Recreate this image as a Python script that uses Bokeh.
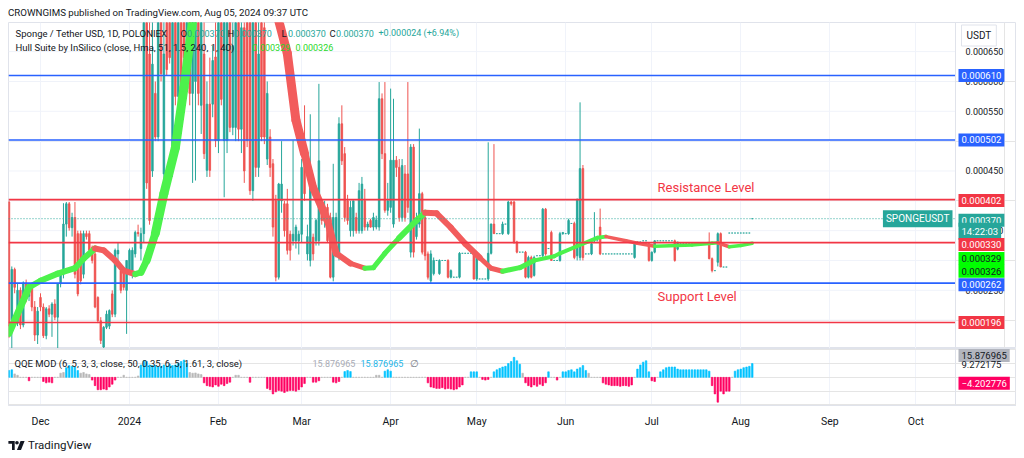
import numpy as np
import pandas as pd
from bokeh.plotting import figure
from bokeh.models import (ColumnDataSource, Range1d, FixedTicker, CustomJSTickFormatter,
                          Span, Label, Grid, Div)
from bokeh.layouts import column
from bokeh.embed import file_html
from bokeh.resources import INLINE

FONT = "Roboto"
TEAL = "#26a69a"
RED = "#ef5350"
LBLUE = "#2962ff"
LRED = "#f23645"
HGREEN = "#4cf24c"
HRED = "#f25c5c"
QBLUE = "#00c3ff"
QPINK = "#ff0062"
QGRAY = "#b8b8b8"
TXT = "#131722"
GRIDC = "#f0f3fa"
BORDER = "#e0e3eb"

# ---------------- data (prices in 1e-6 USDT) ----------------
# daily candles (open, high, low, close)
NOV23 = [(398, 400, 170, 190), (200, 290, 150, 285), (285, 288, 245, 255), (195, 262, 190, 250),
         (250, 255, 185, 192), (192, 265, 188, 262), (262, 268, 230, 240), (240, 262, 232, 255),
         (255, 258, 215, 222), (222, 232, 165, 175), (175, 222, 160, 215)]
DEC23 = [(238, 245, 215, 222), (222, 228, 170, 174), (174, 222, 168, 219), (219, 225, 205, 210),
         (210, 230, 172, 227), (227, 235, 200, 205), (205, 262, 150, 261), (261, 280, 255, 277),
         (277, 396, 270, 361), (361, 398, 340, 395), (395, 398, 350, 355), (355, 380, 340, 372),
         (372, 398, 270, 277), (345, 350, 240, 244), (345, 350, 260, 266), (277, 350, 270, 345),
         (345, 350, 335, 340), (345, 350, 310, 317), (322, 325, 295, 300), (311, 315, 220, 222),
         (238, 240, 195, 199), (199, 205, 160, 166), (155, 190, 150, 188), (188, 216, 185, 210),
         (190, 218, 185, 216), (244, 250, 205, 210), (210, 320, 205, 317), (311, 330, 300, 317),
         (283, 290, 245, 250), (283, 288, 250, 255), (250, 300, 177, 300)]
JAN24 = [(283, 320, 280, 317), (283, 322, 270, 317), (311, 350, 305, 347), (347, 360, 340, 345),
         (320, 355, 300, 345), (345, 800, 330, 720), (720, 800, 420, 430), (646, 720, 360, 367),
         (450, 760, 440, 629), (580, 600, 500, 507), (507, 740, 500, 720), (720, 760, 600, 613),
         (445, 720, 430, 646), (740, 780, 610, 620), (720, 760, 630, 640), (470, 740, 440, 700),
         (720, 750, 560, 575), (575, 760, 560, 700), (700, 740, 540, 560), (740, 760, 620, 640),
         (640, 780, 600, 740), (740, 770, 560, 580), (580, 760, 430, 740), (600, 760, 434, 740),
         (740, 760, 560, 580), (560, 780, 512, 740), (646, 700, 470, 479), (451, 600, 440, 562),
         (562, 640, 440, 451), (562, 660, 540, 635), (641, 700, 490, 501)]
FEB24 = [(501, 740, 480, 700), (700, 760, 560, 570), (501, 780, 406, 740), (501, 760, 480, 740),
         (740, 760, 515, 523), (523, 700, 510, 660), (523, 780, 500, 740), (740, 760, 500, 520),
         (520, 720, 480, 690), (690, 760, 430, 450), (740, 780, 490, 501), (760, 780, 410, 417),
         (417, 780, 400, 740), (740, 760, 440, 456), (456, 700, 440, 646), (700, 740, 500, 507),
         (690, 720, 495, 507), (470, 600, 460, 580), (507, 520, 440, 456), (462, 470, 340, 356),
         (400, 410, 265, 272), (272, 430, 268, 428), (400, 500, 380, 428), (395, 400, 340, 350),
         (395, 420, 310, 317), (344, 350, 300, 317), (333, 501, 325, 344), (333, 360, 320, 356),
         (333, 350, 310, 344)]
MAR24 = [(344, 470, 330, 456), (462, 560, 400, 412), (311, 360, 300, 340), (300, 545, 290, 456),
         (339, 345, 300, 311), (333, 370, 325, 367), (333, 596, 325, 467), (389, 400, 360, 367),
         (367, 400, 355, 389), (389, 395, 330, 333), (372, 380, 270, 272), (272, 462, 265, 372),
         (311, 380, 305, 372), (311, 540, 300, 529), (529, 560, 460, 467), (479, 490, 365, 372),
         (400, 410, 360, 367), (350, 400, 340, 389), (350, 400, 340, 400), (372, 380, 345, 350),
         (350, 430, 345, 417), (350, 440, 345, 428), (400, 420, 350, 356), (356, 365, 350, 361),
         (367, 370, 355, 356), (356, 380, 350, 372), (356, 375, 352, 368), (356, 599, 350, 571),
         (571, 580, 470, 479), (479, 599, 380, 384), (384, 430, 375, 400)]
APR24 = [(389, 588, 380, 468), (361, 571, 355, 468), (468, 475, 440, 456), (456, 470, 365, 372),
         (372, 470, 365, 459), (445, 460, 365, 372), (445, 599, 380, 389), (314, 495, 305, 490),
         (490, 495, 305, 314), (340, 380, 335, 370), (361, 521, 355, 412), (412, 415, 310, 314),
         (372, 380, 300, 308), (311, 315, 268, 272), (266, 317, 262, 311), (278, 305, 275, 300),
         (300, 300, 300, 300), (278, 302, 276, 300), (300, 300, 300, 300), (300, 300, 300, 300),
         (300, 302, 270, 272), (272, 285, 270, 283), (272, 272, 272, 272), (272, 272, 272, 272),
         (272, 314, 270, 312), (312, 312, 312, 312), (312, 312, 312, 312), (312, 312, 312, 312),
         (312, 312, 312, 312), (312, 314, 268, 269)]
MAY24 = [(269, 314, 266, 312), (269, 269, 269, 269), (269, 269, 269, 269), (269, 269, 269, 269),
         (269, 498, 266, 312), (312, 362, 310, 361), (361, 495, 345, 345), (345, 345, 345, 345),
         (345, 345, 345, 345), (345, 365, 343, 361), (361, 361, 361, 361), (345, 400, 343, 398),
         (398, 400, 392, 395), (398, 400, 328, 331), (331, 333, 312, 314), (314, 314, 314, 314),
         (314, 314, 314, 314), (314, 316, 270, 272), (272, 308, 270, 305), (305, 308, 270, 272),
         (275, 308, 273, 305), (308, 308, 308, 308), (308, 308, 308, 308), (308, 388, 305, 386),
         (386, 388, 308, 311), (320, 320, 320, 320), (347, 350, 300, 300), (300, 300, 300, 300),
         (300, 300, 300, 300), (300, 348, 298, 345), (345, 347, 343, 347)]
JUN24 = [(345, 345, 345, 345), (345, 370, 343, 367), (362, 362, 362, 362), (362, 365, 302, 305),
         (308, 403, 300, 403), (305, 565, 300, 454), (454, 460, 300, 305), (311, 311, 311, 311),
         (311, 311, 311, 311), (311, 330, 309, 328), (333, 381, 331, 333), (333, 333, 333, 333),
         (356, 387, 309, 311), (311, 311, 311, 311), (311, 311, 311, 311), (311, 311, 311, 311),
         (311, 311, 311, 311), (311, 311, 311, 311), (311, 311, 311, 311), (311, 311, 311, 311),
         (311, 311, 311, 311), (311, 311, 311, 311), (311, 311, 311, 311), (311, 311, 311, 311),
         (305, 330, 303, 329), (331, 331, 331, 331), (331, 331, 331, 331), (333, 333, 333, 333),
         (333, 333, 333, 333), (328, 330, 298, 300)]
JUL24 = [(300, 315, 298, 314), (314, 334, 312, 333), (333, 333, 333, 333), (333, 333, 333, 333),
         (333, 333, 333, 333), (333, 333, 333, 333), (333, 333, 333, 333), (333, 333, 333, 333),
         (333, 335, 298, 300), (319, 331, 317, 331), (328, 328, 328, 328), (328, 328, 328, 328),
         (328, 328, 328, 328), (328, 328, 328, 328), (328, 328, 328, 328), (328, 328, 328, 328),
         (328, 328, 328, 328), (328, 328, 328, 328), (328, 328, 328, 328), (328, 328, 328, 328),
         (328, 347, 302, 303), (303, 305, 280, 283), (283, 283, 283, 283), (297, 347, 290, 345),
         (345, 347, 289, 289), (289, 289, 289, 289), (289, 289, 289, 289), (346, 346, 346, 346),
         (346, 346, 346, 346), (346, 346, 346, 346), (346, 346, 346, 346)]
AUG24 = [(346, 346, 346, 346), (346, 346, 346, 346), (346, 346, 346, 346), (346, 346, 346, 346),
         (370, 370, 370, 370)]

# QQE MOD histogram, one value per day
QQE_NOV23 = [5, 5.5, 2.5, 1.5, 0, 0, 0, -2.5, 0, 0, 0]
QQE_DEC23 = [0, -3, -4, -3.5, -4, 0, 0, 3, 3.5, 7, 8.5, 8, 7.5, 5, 3, 3.5, 2.5, 2, -2, -6,
             -9, -9, -8.5, -9, -7, -5, -2, 0, 0, 1.5, 0]
QQE_JAN24 = [0, 0, 0, 1, 9, 12, 11.5, 9, 8.5, 8.7, 7.5, 8, 9, 8, 9.5, 8.5, 9, 10, 11.5, 12.5,
             10, 3.5, 3, 3.2, 2.5, 2, -4, -6, -6.5, -7, -5.5]
QQE_FEB24 = [-6.5, -5, -6, -4.5, -3.5, 0, 1.5, 1.5, 0, 0, 0, -3.6, 0, 0, 0, 0, 0, -8, -9, -12,
             -10.5, -9.5, -10, -11, -10, -9.5, -9.5, -10, -9]
QQE_MAR24 = [-7, -4.5, 0, 0, -3.5, -3.5, -2.5, 0, 0, 0, 0, -3.5, -4, -3, 0, 4.2, 5, 4.2, 0, 0,
             0, 0, 0, 0, 0, 0, 1.5, 1.5, 0, 4.5, 5.5]
QQE_APR24 = [4.5, 0, 0, 0, 0, 0, 0, 0, 0, 0, 0, 0, 0, -4, -7, -7.5, -8, -8, -7.5, -8.5,
             -8, -8.5, -9, -8.5, -7, -5.5, 0, 0, 4, 4]
QQE_MAY24 = [4, 0, -1.5, -2, -1.5, 0, 4, 5.5, 6.5, 7.5, 8, 10, 11.5, 14.5, 12, 9.5, 3, -4, -6, -7,
             -5.5, -6.5, -5, -6, -4, 4, 0, 0, -2, 0, 4]
QQE_JUN24 = [4, 5, 5.5, 4, 6, 7, 8.5, 5, 3, 0, 0, 0, 0, -4, -5, -5.5, -6, -6, -6, -6.5,
             -6, -6, -6.5, -5.5, 0, 6, 9, 11, 12, 4]
QQE_JUL24 = [-2.5, -3, 0, 4, 5.5, 7, 7.5, 7.5, 7.5, 6, 5.5, 5.5, 5.5, 5.5, 5.5, 5.5, 5.5, 5.5,
             5.5, 5.5, 4.5, -6, -12, -18, -10, -12, -10, -10, 0, 4.5, 5.5]
QQE_AUG24 = [6, 7, 7.5, 8, 10]

MONTHS = [("2023-11-20", NOV23, QQE_NOV23), ("2023-12-01", DEC23, QQE_DEC23),
          ("2024-01-01", JAN24, QQE_JAN24), ("2024-02-01", FEB24, QQE_FEB24),
          ("2024-03-01", MAR24, QQE_MAR24), ("2024-04-01", APR24, QQE_APR24),
          ("2024-05-01", MAY24, QQE_MAY24), ("2024-06-01", JUN24, QQE_JUN24),
          ("2024-07-01", JUL24, QQE_JUL24), ("2024-08-01", AUG24, QQE_AUG24)]

# Hull Suite band
HULL_DATES = ["2023-11-20", "2023-11-27", "2023-12-01", "2023-12-07", "2023-12-13", "2023-12-16",
              "2023-12-20", "2023-12-23", "2023-12-27", "2023-12-30", "2024-01-03", "2024-01-05",
              "2024-01-07", "2024-01-10", "2024-01-13", "2024-01-17", "2024-01-20", "2024-01-23",
              "2024-01-27", "2024-02-03", "2024-02-10", "2024-02-17", "2024-02-22", "2024-02-25",
              "2024-02-28", "2024-03-02", "2024-03-05", "2024-03-10", "2024-03-13", "2024-03-18",
              "2024-03-23", "2024-03-26", "2024-03-30", "2024-04-04", "2024-04-10", "2024-04-13",
              "2024-04-17", "2024-04-22", "2024-04-27", "2024-05-02", "2024-05-06", "2024-05-10",
              "2024-05-16", "2024-05-21", "2024-05-28", "2024-05-30", "2024-06-07", "2024-06-12",
              "2024-06-15", "2024-06-22", "2024-06-26", "2024-07-02", "2024-07-15", "2024-07-22",
              "2024-07-24", "2024-07-28", "2024-08-01", "2024-08-05"]
HULL_VALUES = [178, 255, 266, 278, 287, 303, 320, 317, 300, 283, 277, 280, 300, 345, 412, 489, 590,
               702, 800, 880, 885, 800, 702, 647, 535, 479, 422, 367, 312, 295, 287, 288, 312, 338,
               367, 380, 379, 355, 328, 305, 287, 282, 288, 300, 307, 312, 328, 338, 340, 333, 329,
               324, 326, 329, 329.5, 323, 325, 329]
HULL_WIDTHS = [7, 6, 6, 6, 6, 6, 6, 6, 6, 6, 6, 7, 8, 9, 9, 9, 9, 9, 9, 9, 9, 9, 9, 9, 9, 8, 8,
               7, 6, 5, 5, 5, 5, 6, 6, 6, 6, 6, 6, 5, 5, 5, 5, 4, 4, 4, 4, 4, 3.5, 3.5, 3.5, 3.5,
               3.5, 3.5, 3.5, 3.5, 3.5, 3.5]

LEVELS = [610, 502, 402, 330, 262, 196]
LEVEL_COLORS = [LBLUE, LBLUE, LRED, LRED, LBLUE, LRED]
LAST_PRICE = 370
HULL_LAST = [329, 326]
PRICE_TICKS = [200, 250, 300, 350, 400, 450, 500, 550, 600, 650]
MONTH_TICKS = ["2023-12-01", "2024-01-01", "2024-02-01", "2024-03-01", "2024-04-01", "2024-05-01",
               "2024-06-01", "2024-07-01", "2024-08-01", "2024-09-01", "2024-10-01"]
MONTH_LABELS = ["Dec", "2024", "Feb", "Mar", "Apr", "May", "Jun", "Jul", "Aug", "Sep", "Oct"]
QQE_TAGS = [15.876965, 9.272175, -4.202776]

X_START = "2023-11-19 20:24"
X_END = "2024-10-14 19:40"     # right edge of the chart area (start of the price scale)
Y_RANGE = (152.5, 698.8)
Q_RANGE = (-20.4, 20.9)
U = 1e-6

# ---------------- build sources ----------------
rows = []
qrows = []
for start, candles, qqe in MONTHS:
    days = pd.date_range(start, periods=len(candles), freq="D")
    for d, (o, h, l, c) in zip(days, candles):
        rows.append((d, o * U, h * U, l * U, c * U))
    qdays = pd.date_range(start, periods=len(qqe), freq="D")
    for d, v in zip(qdays, qqe):
        qrows.append((d, v))
df = pd.DataFrame(rows, columns=["date", "open", "high", "low", "close"])
df["top"] = np.maximum(df["open"], df["close"])
df["bottom"] = np.minimum(df["open"], df["close"])
df["color"] = np.where(df["close"] >= df["open"], TEAL, RED)
src = ColumnDataSource(df)

qdf = pd.DataFrame(qrows, columns=["date", "v"])
qdf["color"] = [QPINK if v < 0 else (QBLUE if v >= 4 else QGRAY) for v in qdf["v"]]
qsrc = ColumnDataSource(qdf)

def ms(s):
    return pd.Timestamp(s).value / 1e6

XS_MS = ms(X_START)
XE_MS = ms(X_END)
CHART_W, SCALE_W = 947, 61
XR_MS = XE_MS + (XE_MS - XS_MS) * SCALE_W / CHART_W   # room for the price scale
DAY_MS = 86400000.0
MONTH_MS = [ms(m) for m in MONTH_TICKS]

# ---------------- price pane ----------------
p1 = figure(x_axis_type="datetime", x_range=Range1d(XS_MS, XR_MS),
            y_range=Range1d(Y_RANGE[0] * U, Y_RANGE[1] * U),
            frame_width=CHART_W + SCALE_W, frame_height=326, min_border=0,
            x_axis_location=None, y_axis_location=None, toolbar_location=None,
            output_backend="svg", outline_line_color=BORDER,
            background_fill_color="white", border_fill_color="white")
p1.add_layout(Grid(dimension=0, ticker=FixedTicker(ticks=MONTH_MS), grid_line_color=GRIDC))
p1.segment(x0=[XS_MS] * len(PRICE_TICKS), x1=[XE_MS] * len(PRICE_TICKS),
           y0=[t * U for t in PRICE_TICKS], y1=[t * U for t in PRICE_TICKS],
           line_color=GRIDC, line_width=1)
p1.add_layout(Span(location=XE_MS, dimension="height", line_color=BORDER, line_width=1))

p1.segment(x0="date", y0="high", x1="date", y1="low", line_color="color", line_width=1, source=src)
p1.vbar(x="date", width=0.55 * DAY_MS, top="top", bottom="bottom", fill_color="color",
        line_color="color", line_width=0.8, source=src)

hx = [ms(d) for d in HULL_DATES]
seg_x, seg_y, seg_c, seg_w = [], [], [], []
for k in range(len(hx) - 1):
    seg_x.append([hx[k], hx[k + 1]])
    seg_y.append([HULL_VALUES[k] * U, HULL_VALUES[k + 1] * U])
    seg_c.append(HGREEN if HULL_VALUES[k + 1] >= HULL_VALUES[k] else HRED)
    seg_w.append(HULL_WIDTHS[k])
p1.multi_line(xs=seg_x, ys=seg_y, line_color=seg_c, line_width=seg_w, line_cap="round",
              line_join="round")

p1.segment(x0=[XS_MS] * len(LEVELS), x1=[XE_MS] * len(LEVELS),
           y0=[v * U for v in LEVELS], y1=[v * U for v in LEVELS],
           line_color=LEVEL_COLORS, line_width=1.6)
p1.segment(x0=[XS_MS], x1=[XE_MS], y0=[LAST_PRICE * U], y1=[LAST_PRICE * U],
           line_color=TEAL, line_width=1, line_dash="1 2")

def text(fig, x, y, s, color=TXT, size="9.5px", units="screen", align="left", font=FONT):
    fig.add_layout(Label(x=x, y=y, x_units=units, text=s, text_font=font, text_font_size=size,
                         text_color=color, text_align=align, text_baseline="middle"))

def tag(fig, y, s, bg, fg, dy=0.0, border=None, xoff=3, align="left", size="9.5px", pad=3):
    fig.add_layout(Label(x=XE_MS, y=y, x_offset=xoff, y_offset=dy, text=s, text_font=FONT,
                         text_font_size=size, text_color=fg, text_align=align,
                         text_baseline="middle", background_fill_color=bg,
                         border_line_color=border, padding=pad))

# legend texts
L1 = 680.4 * U
L2 = 656.9 * U
text(p1, 7, L1, "Sponge / Tether USD, 1D, POLONIEX")
for letter, lx in [("O", 172), ("H", 219), ("L", 273), ("C", 321)]:
    text(p1, lx, L1, letter)
    text(p1, lx + 6.5, L1, "0.%06d" % LAST_PRICE, color=TEAL, size="9px")
text(p1, 370, L1, "+0.000024 (+6.94%)", color=TEAL, size="9px")
text(p1, 7, L2, "Hull Suite by InSilico (close, Hma, 51, 1.5, 240, 1, 40)")
text(p1, 244, L2, "0.%06d" % HULL_LAST[0], color="#2ad82a", size="9px")
text(p1, 287, L2, "0.%06d" % HULL_LAST[1], color="#2ad82a", size="9px")

text(p1, ms("2024-07-03"), 422.3 * U, "Resistance Level", color=LRED, size="13px", units="data")
text(p1, ms("2024-07-03"), 239.6 * U, "Support Level", color=LRED, size="13px", units="data")

# price scale labels
for t in PRICE_TICKS:
    tag(p1, t * U, "0.%06d" % t, None, TXT, xoff=7, size="9px")

# price scale tags
tag(p1, 677 * U, "USDT", "white", TXT, border=BORDER, xoff=6, size="10px", pad=5)
tag(p1, 610 * U, "0.000610", LBLUE, "white")
tag(p1, 502 * U, "0.000502", LBLUE, "white")
tag(p1, 402 * U, "0.000402", LRED, "white", dy=-1)
tag(p1, LAST_PRICE * U, "SPONGEUSDT", TEAL, "white", xoff=-3, align="right", size="10px")
tag(p1, LAST_PRICE * U, "0.000370", TEAL, "white", dy=-1.5)
tag(p1, LAST_PRICE * U, "14:22:03", TEAL, "white", dy=-12.5)
tag(p1, 330 * U, "0.000330", LRED, "white", dy=-2)
tag(p1, 329 * U, "0.000329", "#00ff00", TXT, dy=-15.4)
tag(p1, 326 * U, "0.000326", "#00ff00", TXT, dy=-26.3)
tag(p1, 262 * U, "0.000262", LBLUE, "white", dy=-1.7)
tag(p1, 196 * U, "0.000196", LRED, "white")

# ---------------- QQE pane ----------------
p2 = figure(x_axis_type="datetime", x_range=p1.x_range, y_range=Range1d(*Q_RANGE),
            frame_width=CHART_W + SCALE_W, frame_height=57, min_border=0,
            min_border_bottom=25, y_axis_location=None,
            toolbar_location=None, output_backend="svg", outline_line_color=BORDER,
            background_fill_color="white", border_fill_color="white")
p2.vbar(x="date", width=0.55 * DAY_MS, top="v", bottom=0, fill_color="color",
        line_color="color", line_width=0.6, source=qsrc)
p2.add_layout(Span(location=XE_MS, dimension="height", line_color=BORDER, line_width=1))
p2.xaxis.ticker = FixedTicker(ticks=MONTH_MS)
p2.xgrid.ticker = FixedTicker(ticks=MONTH_MS)
p2.xgrid.grid_line_color = GRIDC
p2.xaxis.formatter = CustomJSTickFormatter(
    args=dict(mticks=MONTH_MS, mlabels=MONTH_LABELS),
    code="for (let i = 0; i < mticks.length; i++) { if (Math.abs(mticks[i] - tick) < 1000) return mlabels[i]; } return '';")
p2.xaxis.major_label_text_font = FONT
p2.xaxis.major_label_text_font_size = "10.5px"
p2.xaxis.major_label_text_color = TXT
p2.xaxis.major_tick_line_color = None
p2.xaxis.minor_tick_line_color = None
p2.xaxis.axis_line_color = BORDER
p2.xaxis.major_label_standoff = 3

QL = 10.1
text(p2, 6, QL, "QQE MOD (6, 5, 3, 3, close, 50, 0.35, 6, 5, 1.61, 3, close)", size="9.5px")
text(p2, 304, QL, "15.876965", color="#a8abb5", size="9px")
text(p2, 352, QL, "15.876965", color="#1cb5e8", size="9px")
text(p2, 401, QL, "\u2205", color="#787b86")
tag(p2, QQE_TAGS[0], "15.876965", "#b2b5be", TXT)
tag(p2, QQE_TAGS[1], "9.272175", None, TXT)
tag(p2, QQE_TAGS[2], "\u22124.202776", QPINK, "white")

# ---------------- header / footer ----------------
header = Div(text="CROWNGIMS published on TradingView.com, Aug 05, 2024 09:37 UTC",
             width=1008, height=14, margin=(0, 0, 0, 0),
             styles={"font-family": FONT, "font-size": "9.7px", "color": TXT,
                     "line-height": "10px", "white-space": "nowrap"})
logo = ('<div style="margin-top:7px;display:flex;align-items:center;font-family:Roboto;'
        'font-size:11.5px;color:#131722;white-space:nowrap;">'
        '<svg width="17" height="9" viewBox="0 0 36 20" style="margin-right:3px">'
        '<path d="M0 0h14v20H8V6H0z" fill="#131722"/><circle cx="19" cy="4" r="4" fill="#131722"/>'
        '<path d="M27 0h9l-8 20h-9z" fill="#131722"/></svg>TradingView</div>')
footer = Div(text=logo, width=1008, height=20, margin=(0, 0, 0, 0))

layout = column(header, p1, p2, footer, spacing=0, margin=(8, 0, 0, 8))
open("out.html", "w").write(file_html(layout, INLINE))
